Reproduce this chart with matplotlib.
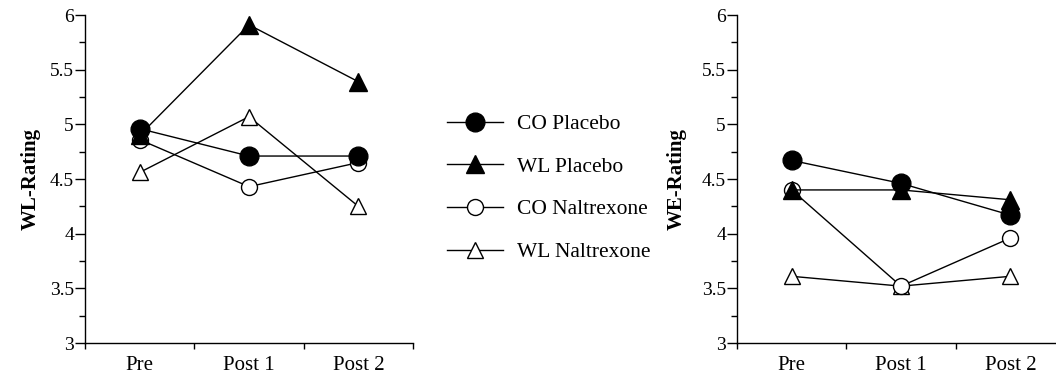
import matplotlib
matplotlib.use("Agg")
import matplotlib.pyplot as plt
from matplotlib.ticker import MultipleLocator, FixedLocator, NullFormatter, FixedFormatter, FuncFormatter

plt.rcParams["font.family"] = ["Liberation Serif", "DejaVu Serif"]

# data
phases = ["Pre", "Post 1", "Post 2"]
groups = ["CO Placebo", "WL Placebo", "CO Naltrexone", "WL Naltrexone"]

wl_co_placebo = [4.96, 4.71, 4.71]
wl_wl_placebo = [4.90, 5.91, 5.39]
wl_co_naltrexone = [4.86, 4.43, 4.65]
wl_wl_naltrexone = [4.56, 5.07, 4.25]

we_co_placebo = [4.67, 4.46, 4.17]
we_wl_placebo = [4.40, 4.40, 4.31]
we_co_naltrexone = [4.40, 3.52, 3.96]
we_wl_naltrexone = [3.61, 3.52, 3.61]

# marker style per group: (marker, face, size, zorder)
styles = {
    "CO Placebo": ("o", "black", 13.5, 6),
    "WL Placebo": ("^", "black", 13, 5),
    "CO Naltrexone": ("o", "white", 11.5, 4),
    "WL Naltrexone": ("^", "white", 11.5, 3),
}

fig = plt.figure(figsize=(10.56, 3.75), dpi=100)
W, H = 1056, 375
ax1 = fig.add_axes([85 / W, 32 / H, 328 / W, 328 / H])
ax2 = fig.add_axes([737 / W, 32 / H, 319 / W, 328 / H])


def draw_panel(ax, series, ylabel, xmax, label_x):
    xs = [0.5, 1.5, 2.5]
    handles = []
    for name, vals in zip(groups, series):
        m, fc, ms, z = styles[name]
        (h,) = ax.plot(xs, vals, color="black", lw=1.0, marker=m, markersize=ms,
                       markerfacecolor=fc, markeredgecolor="black", markeredgewidth=1.0,
                       zorder=z, clip_on=False, label=name)
        handles.append(h)
    ax.set_xlim(0, xmax)
    ax.set_ylim(3, 6)
    ax.spines["top"].set_visible(False)
    ax.spines["right"].set_visible(False)
    for s in ("left", "bottom"):
        ax.spines[s].set_linewidth(1.0)
    ax.yaxis.set_major_locator(MultipleLocator(0.5))
    ax.yaxis.set_minor_locator(MultipleLocator(0.25))
    ax.yaxis.set_major_formatter(FuncFormatter(lambda v, p: f"{v:g}"))
    ax.tick_params(axis="y", which="major", length=7, width=1.0, labelsize=14, pad=1)
    ax.tick_params(axis="y", which="minor", length=4, width=1.0)
    ax.xaxis.set_major_locator(FixedLocator([0, 1, 2, 3]))
    ax.xaxis.set_major_formatter(NullFormatter())
    ax.xaxis.set_minor_locator(FixedLocator(xs))
    ax.xaxis.set_minor_formatter(FixedFormatter(phases))
    ax.tick_params(axis="x", which="major", length=4, width=1.0)
    ax.tick_params(axis="x", which="minor", length=0, labelsize=15, pad=9)
    ax.set_ylabel(ylabel, fontsize=15, fontweight="bold")
    ax.yaxis.set_label_coords(label_x, 0.5)
    return handles


h = draw_panel(ax1, [wl_co_placebo, wl_wl_placebo, wl_co_naltrexone, wl_wl_naltrexone],
               "WL-Rating", 3, (41 - 85) / 328)
draw_panel(ax2, [we_co_placebo, we_wl_placebo, we_co_naltrexone, we_wl_naltrexone],
           "WE-Rating", 319 / 109.33, (687 - 737) / 319)

fig.legend(handles=h, labels=groups, loc="upper left", bbox_to_anchor=(447 / W, 1 - 114 / H),
           frameon=False, fontsize=15.5, handlelength=2.6, handletextpad=0.65,
           labelspacing=1.05, borderpad=0, borderaxespad=0)

fig.savefig("out.png", dpi=100)
